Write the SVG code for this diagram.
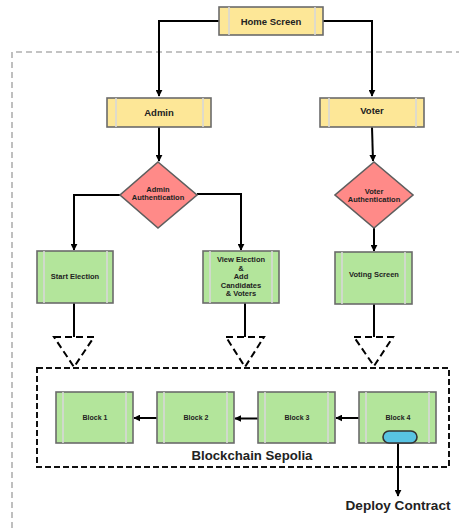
<svg xmlns="http://www.w3.org/2000/svg" width="459" height="528" viewBox="0 0 459 528">
<style>
.y{fill:#fde797;stroke:#6b6b6b;stroke-width:1.6}
.g{fill:#b3e59b;stroke:#6b6b6b;stroke-width:1.6}
.r{fill:#ff8a88;stroke:#5e5e5e;stroke-width:1.6}
.in{stroke:#d8d8d8;stroke-width:1.6;fill:none}
.t{font-family:"Liberation Sans",Arial,sans-serif;font-weight:bold;fill:#222;text-anchor:middle}
.c{fill:none;stroke:#000;stroke-width:2}
.hd{fill:#fff;stroke:#000;stroke-width:2;stroke-dasharray:7 4}
</style>
<defs>
<marker id="ah" viewBox="0 0 10 10" refX="9" refY="5" markerWidth="3.5" markerHeight="3.5" orient="auto" markerUnits="strokeWidth">
<path d="M0,0 L10,5 L0,10 z" fill="#000"/>
</marker>
</defs>
<rect width="459" height="528" fill="#fff"/>
<path d="M12,528 V52 H459" fill="none" stroke="#b0b0b0" stroke-width="1.6" stroke-dasharray="6 4"/>
<rect x="37" y="368" width="412" height="99" fill="none" stroke="#111" stroke-width="2" stroke-dasharray="6 3"/>
<text class="t" x="252" y="460" font-size="13.2">Blockchain Sepolia</text>

<g id="connectors">
<path class="c" d="M219,21 H159 V96" marker-end="url(#ah)"/>
<path class="c" d="M323,21 H372 V96" marker-end="url(#ah)"/>
<path class="c" d="M159,127 V161" marker-end="url(#ah)"/>
<path class="c" d="M372,127 L373,161" marker-end="url(#ah)"/>
<path class="c" d="M120,195 H74 V250" marker-end="url(#ah)"/>
<path class="c" d="M197,194 H241 V250" marker-end="url(#ah)"/>
<path class="c" d="M374,228 V251" marker-end="url(#ah)"/>
<path class="c" d="M74,303 V337"/>
<path class="c" d="M245,303 V337"/>
<path class="c" d="M374,304 V337"/>
<path class="hd" d="M54,337 H94 L74,367 Z"/>
<path class="hd" d="M226,337 H264 L245,367 Z"/>
<path class="hd" d="M354,337 H393 L374,366 Z"/>
<path class="c" d="M359,418 H336" marker-end="url(#ah)"/>
<path class="c" d="M258,418.5 H235" marker-end="url(#ah)"/>
<path class="c" d="M157,418 H134" marker-end="url(#ah)"/>
<path class="c" d="M398,443 V496" marker-end="url(#ah)"/>
</g>

<g id="home">
<rect class="y" x="219" y="7" width="104" height="28"/>
<path class="in" d="M229,7 V35 M315,7 V35"/>
<text class="t" x="271" y="25" font-size="9.5">Home Screen</text>
</g>
<g id="admin">
<rect class="y" x="107" y="98" width="104" height="29"/>
<path class="in" d="M116,98 V127 M203,98 V127"/>
<text class="t" x="159" y="116" font-size="9.5">Admin</text>
</g>
<g id="voter">
<rect class="y" x="320" y="98" width="104" height="29"/>
<path class="in" d="M329,98 V127 M416,98 V127"/>
<text class="t" x="372" y="114" font-size="9.5">Voter</text>
</g>
<g id="admin-auth">
<path class="r" d="M158,162 L197,195 L158,228 L120,195 Z"/>
<text class="t" x="158" y="192" font-size="7.5">Admin</text>
<text class="t" x="158" y="200" font-size="7.5">Authentication</text>
</g>
<g id="voter-auth">
<path class="r" d="M374,162 L413,195 L374,228 L335,195 Z"/>
<text class="t" x="374" y="194" font-size="7.5">Voter</text>
<text class="t" x="374" y="202" font-size="7.5">Authentication</text>
</g>
<g id="start-election">
<rect class="g" x="37" y="251" width="76" height="52"/>
<path class="in" d="M44,251 V303 M107,251 V303"/>
<text class="t" x="75" y="279" font-size="7.5">Start Election</text>
</g>
<g id="view-election">
<rect class="g" x="203" y="251" width="76" height="52"/>
<path class="in" d="M210,251 V303 M272,251 V303"/>
<text class="t" x="241" y="262" font-size="7.5">View Election</text>
<text class="t" x="241" y="270.5" font-size="7.5">&amp;</text>
<text class="t" x="241" y="279" font-size="7.5">Add</text>
<text class="t" x="241" y="287.5" font-size="7.5">Candidates</text>
<text class="t" x="241" y="296" font-size="7.5">&amp; Voters</text>
</g>
<g id="voting-screen">
<rect class="g" x="335" y="252" width="77" height="52"/>
<path class="in" d="M342,252 V304 M405,252 V304"/>
<text class="t" x="374" y="277" font-size="7.5">Voting Screen</text>
</g>
<g id="block1">
<rect class="g" x="56" y="392" width="77" height="51"/>
<path class="in" d="M63,392 V443 M126,392 V443"/>
<text class="t" x="95" y="420" font-size="7">Block 1</text>
</g>
<g id="block2">
<rect class="g" x="157" y="392" width="77" height="51"/>
<path class="in" d="M164,392 V443 M227,392 V443"/>
<text class="t" x="196" y="420" font-size="7">Block 2</text>
</g>
<g id="block3">
<rect class="g" x="258" y="392" width="77" height="51"/>
<path class="in" d="M265,392 V443 M328,392 V443"/>
<text class="t" x="297" y="420" font-size="7">Block 3</text>
</g>
<g id="block4">
<rect class="g" x="359" y="392" width="77" height="51"/>
<path class="in" d="M366,392 V443 M429,392 V443"/>
<text class="t" x="398" y="420" font-size="7">Block 4</text>
<rect x="383" y="431" width="34" height="12" rx="6" fill="#58c3e3" stroke="#333" stroke-width="1.6"/>
</g>
<g id="deploy">
<text class="t" x="398" y="510" font-size="13.6">Deploy Contract</text>
</g>
</svg>
